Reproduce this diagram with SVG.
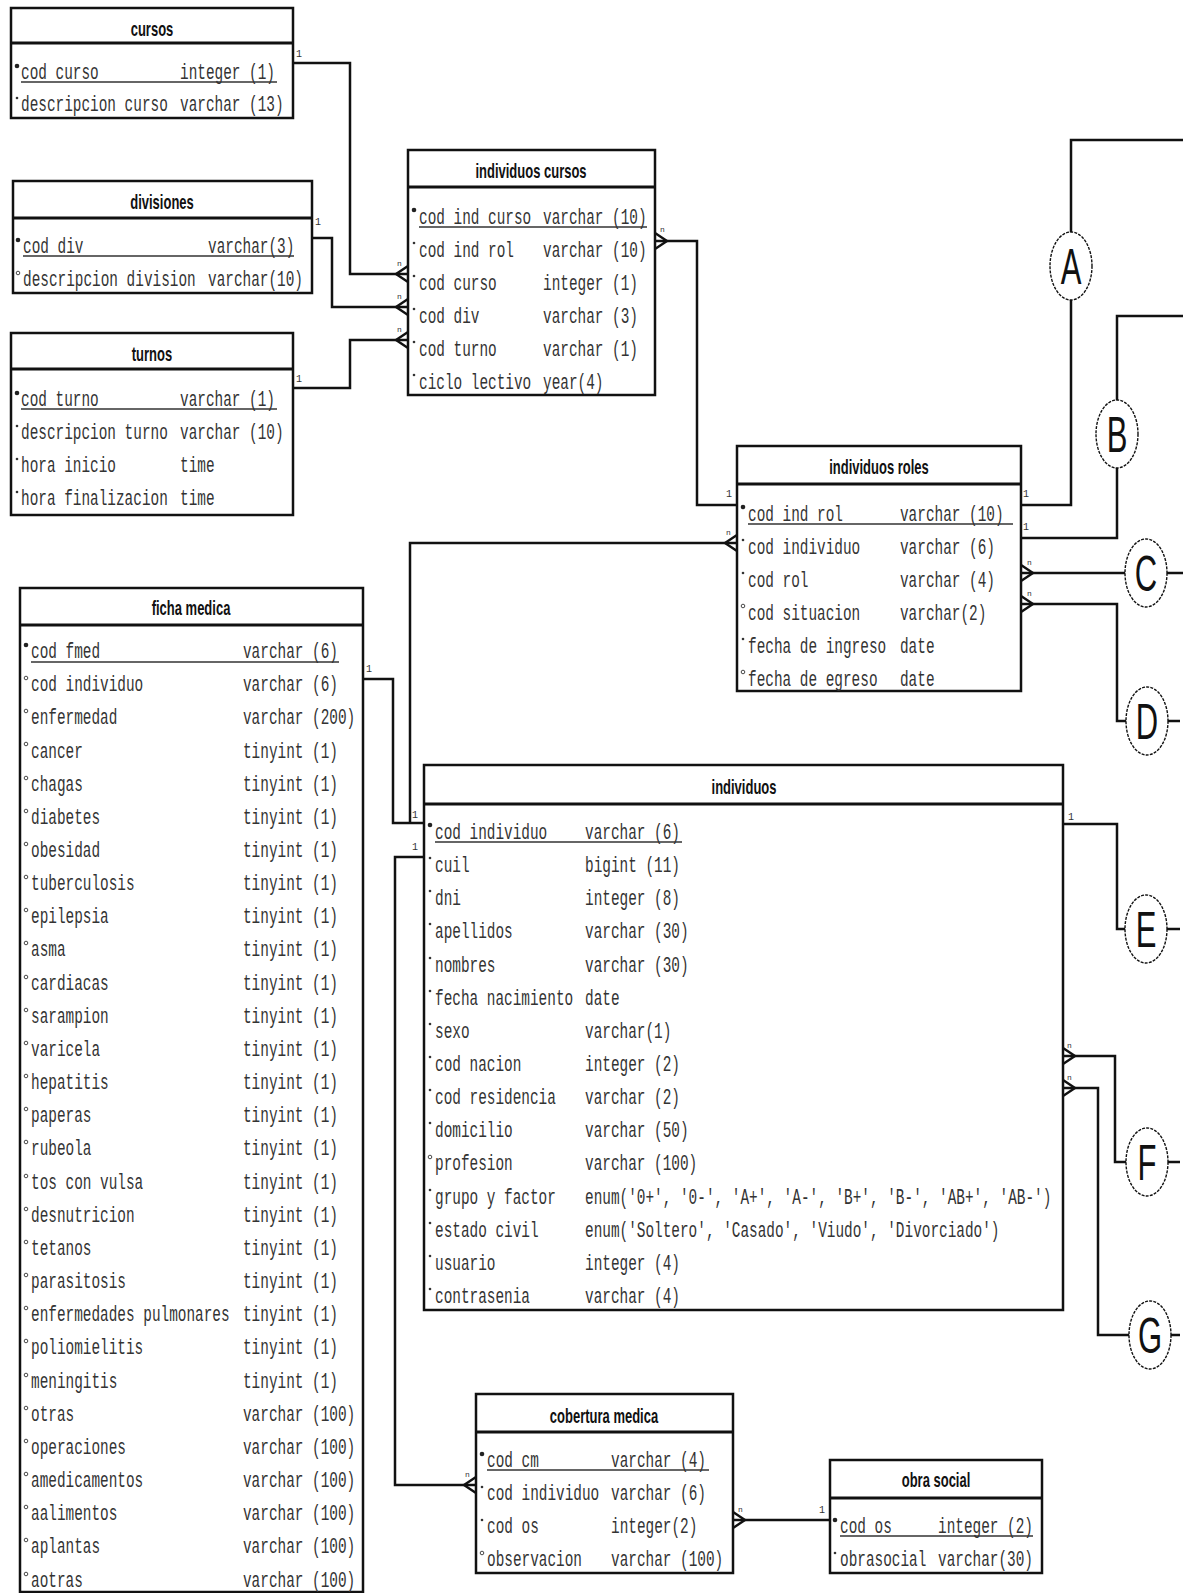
<svg xmlns="http://www.w3.org/2000/svg" width="1183" height="1593" viewBox="0 0 1183 1593">
<style>
.box{fill:#fff;stroke:#111;stroke-width:2.5}
.hdr{stroke:#111;stroke-width:3}
.t{font-family:"Liberation Sans","DejaVu Sans",Arial,sans-serif;font-weight:bold;font-size:13px;fill:#111;text-anchor:middle}
.f{font-family:"Liberation Mono","DejaVu Sans Mono","Courier New",monospace;font-size:14.4px;fill:#333}
.ul{stroke:#333;stroke-width:1.5}
.c{fill:none;stroke:#111;stroke-width:2.5}
.cf{fill:none;stroke:#111;stroke-width:2.4}
.one{font-family:"Liberation Mono",monospace;font-size:10px;fill:#333}
.n{font-family:"Liberation Mono",monospace;font-size:8px;fill:#333}
.pk{fill:#222}
.nn{fill:#333}
.nl{fill:#fff;stroke:#333;stroke-width:0.9}
.circ{fill:#fff;stroke:#111;stroke-width:1.4;stroke-dasharray:3 1.2}
.L{font-family:"Liberation Sans",Arial,sans-serif;font-size:31px;fill:#111;text-anchor:middle}
</style>
<rect width="1183" height="1593" fill="#fff"/>

<g id="connectors">
<g class="c">
<path d="M293,63 H350 V274 H408"/>
<path d="M312,238 H332 V307 H408"/>
<path d="M293,388 H350 V340 H408"/>
<path d="M655,241 H697 V505 H737"/>
<path d="M737,543 H410 V823"/>
<path d="M363,679 H393 V823 H424"/>
<path d="M424,857 H395 V1485 H476"/>
<path d="M733,1520 H830"/>
<path d="M1021,505 H1071 V140 H1183"/>
<path d="M1021,538 H1117 V316 H1183"/>
<path d="M1021,573 H1183"/>
<path d="M1021,604 H1117 V721 H1180"/>
<path d="M1063,824 H1117 V929 H1180"/>
<path d="M1063,1056 H1115 V1162 H1180"/>
<path d="M1063,1088 H1098 V1335 H1180"/>
</g>
<g class="cf">
<path d="M396,274 L408,266 M396,274 L408,282"/>
<path d="M396,307 L408,299 M396,307 L408,315"/>
<path d="M396,340 L408,332 M396,340 L408,348"/>
<path d="M667,241 L655,233 M667,241 L655,249"/>
<path d="M725,543 L737,535 M725,543 L737,551"/>
<path d="M1033,573 L1021,565 M1033,573 L1021,581"/>
<path d="M1033,604 L1021,596 M1033,604 L1021,612"/>
<path d="M1075,1056 L1063,1048 M1075,1056 L1063,1064"/>
<path d="M1075,1088 L1063,1080 M1075,1088 L1063,1096"/>
<path d="M464,1485 L476,1477 M464,1485 L476,1493"/>
<path d="M745,1520 L733,1512 M745,1520 L733,1528"/>
</g>
<g class="n">
<text x="397" y="266">n</text>
<text x="397" y="299">n</text>
<text x="397" y="332">n</text>
<text x="660" y="232">n</text>
<text x="726" y="535">n</text>
<text x="1027" y="565">n</text>
<text x="1027" y="596">n</text>
<text x="1067" y="1048">n</text>
<text x="1067" y="1080">n</text>
<text x="465" y="1477">n</text>
<text x="738" y="1512">n</text>
</g>
<g class="one">
<text x="296" y="57">1</text>
<text x="315" y="225">1</text>
<text x="296" y="382">1</text>
<text x="726" y="497">1</text>
<text x="1023" y="497">1</text>
<text x="1023" y="530">1</text>
<text x="366" y="672">1</text>
<text x="412" y="818">1</text>
<text x="412" y="850">1</text>
<text x="1068" y="820">1</text>
<text x="819" y="1513">1</text>
</g>
</g>

<g id="offpage">
<g id="ref-A"><ellipse class="circ" cx="1071" cy="266" rx="21" ry="34"/><text class="L" transform="translate(1071,284) scale(1,1.6)">A</text></g>
<g id="ref-B"><ellipse class="circ" cx="1117" cy="434" rx="21" ry="34"/><text class="L" transform="translate(1117,452) scale(1,1.6)">B</text></g>
<g id="ref-C"><ellipse class="circ" cx="1146" cy="573" rx="21" ry="34"/><text class="L" transform="translate(1146,591) scale(1,1.6)">C</text></g>
<g id="ref-D"><ellipse class="circ" cx="1147" cy="721" rx="21" ry="34"/><text class="L" transform="translate(1147,739) scale(1,1.6)">D</text></g>
<g id="ref-E"><ellipse class="circ" cx="1146" cy="929" rx="21" ry="34"/><text class="L" transform="translate(1146,947) scale(1,1.6)">E</text></g>
<g id="ref-F"><ellipse class="circ" cx="1147" cy="1162" rx="21" ry="34"/><text class="L" transform="translate(1147,1180) scale(1,1.6)">F</text></g>
<g id="ref-G"><ellipse class="circ" cx="1150" cy="1335" rx="21" ry="34"/><text class="L" transform="translate(1150,1353) scale(1,1.6)">G</text></g>
</g>

<g id="cursos">
<rect class="box" x="11" y="8" width="282" height="110"/>
<line class="hdr" x1="11" y1="43" x2="293" y2="43"/>
<text class="t" transform="translate(152,36) scale(1,1.5)">cursos</text>
<g class="f">
<g transform="translate(0,79) scale(1,1.5)"><text x="21">cod curso</text><text x="180">integer (1)</text></g>
<g transform="translate(0,111) scale(1,1.5)"><text x="21">descripcion curso</text><text x="180">varchar (13)</text></g>
</g>
<line class="ul" x1="21" y1="82" x2="277" y2="82"/>
<circle class="pk" cx="17" cy="66" r="2.3"/>
<circle class="nn" cx="17" cy="98" r="1.3"/>
</g>

<g id="divisiones">
<rect class="box" x="13" y="181" width="299" height="112"/>
<line class="hdr" x1="13" y1="218" x2="312" y2="218"/>
<text class="t" transform="translate(162,209) scale(1,1.5)">divisiones</text>
<g class="f">
<g transform="translate(0,253) scale(1,1.5)"><text x="23">cod div</text><text x="208">varchar(3)</text></g>
<g transform="translate(0,286) scale(1,1.5)"><text x="23">descripcion division</text><text x="208">varchar(10)</text></g>
</g>
<line class="ul" x1="23" y1="256" x2="294" y2="256"/>
<circle class="pk" cx="18" cy="240" r="2.3"/>
<circle class="nl" cx="18" cy="273" r="1.8"/>
</g>

<g id="turnos">
<rect class="box" x="11" y="333" width="282" height="182"/>
<line class="hdr" x1="11" y1="369" x2="293" y2="369"/>
<text class="t" transform="translate(152,361) scale(1,1.5)">turnos</text>
<g class="f">
<g transform="translate(0,406) scale(1,1.5)"><text x="21">cod turno</text><text x="180">varchar (1)</text></g>
<g transform="translate(0,439) scale(1,1.5)"><text x="21">descripcion turno</text><text x="180">varchar (10)</text></g>
<g transform="translate(0,472) scale(1,1.5)"><text x="21">hora inicio</text><text x="180">time</text></g>
<g transform="translate(0,505) scale(1,1.5)"><text x="21">hora finalizacion</text><text x="180">time</text></g>
</g>
<line class="ul" x1="21" y1="409" x2="277" y2="409"/>
<circle class="pk" cx="17" cy="393" r="2.3"/>
<circle class="nn" cx="17" cy="426" r="1.3"/>
<circle class="nn" cx="17" cy="459" r="1.3"/>
<circle class="nn" cx="17" cy="492" r="1.3"/>
</g>

<g id="individuos-cursos">
<rect class="box" x="408" y="150" width="247" height="245"/>
<line class="hdr" x1="408" y1="187" x2="655" y2="187"/>
<text class="t" transform="translate(531,178) scale(1,1.5)">individuos cursos</text>
<g class="f">
<g transform="translate(0,224) scale(1,1.5)"><text x="419">cod ind curso</text><text x="543">varchar (10)</text></g>
<g transform="translate(0,257) scale(1,1.5)"><text x="419">cod ind rol</text><text x="543">varchar (10)</text></g>
<g transform="translate(0,290) scale(1,1.5)"><text x="419">cod curso</text><text x="543">integer (1)</text></g>
<g transform="translate(0,323) scale(1,1.5)"><text x="419">cod div</text><text x="543">varchar (3)</text></g>
<g transform="translate(0,356) scale(1,1.5)"><text x="419">cod turno</text><text x="543">varchar (1)</text></g>
<g transform="translate(0,389) scale(1,1.5)"><text x="419">ciclo lectivo</text><text x="543">year(4)</text></g>
</g>
<line class="ul" x1="419" y1="227" x2="647" y2="227"/>
<circle class="pk" cx="414" cy="210" r="2.3"/>
<circle class="nn" cx="414" cy="243" r="1.3"/>
<circle class="nn" cx="414" cy="276" r="1.3"/>
<circle class="nn" cx="414" cy="309" r="1.3"/>
<circle class="nn" cx="414" cy="342" r="1.3"/>
<circle class="nn" cx="414" cy="375" r="1.3"/>
</g>

<g id="individuos-roles">
<rect class="box" x="737" y="446" width="284" height="245"/>
<line class="hdr" x1="737" y1="484" x2="1021" y2="484"/>
<text class="t" transform="translate(879,474) scale(1,1.5)">individuos roles</text>
<g class="f">
<g transform="translate(0,521) scale(1,1.5)"><text x="748">cod ind rol</text><text x="900">varchar (10)</text></g>
<g transform="translate(0,554) scale(1,1.5)"><text x="748">cod individuo</text><text x="900">varchar (6)</text></g>
<g transform="translate(0,587) scale(1,1.5)"><text x="748">cod rol</text><text x="900">varchar (4)</text></g>
<g transform="translate(0,620) scale(1,1.5)"><text x="748">cod situacion</text><text x="900">varchar(2)</text></g>
<g transform="translate(0,653) scale(1,1.5)"><text x="748">fecha de ingreso</text><text x="900">date</text></g>
<g transform="translate(0,686) scale(1,1.5)"><text x="748">fecha de egreso</text><text x="900">date</text></g>
</g>
<line class="ul" x1="748" y1="524" x2="1013" y2="524"/>
<circle class="pk" cx="743" cy="507" r="2.3"/>
<circle class="nn" cx="743" cy="540" r="1.3"/>
<circle class="nn" cx="743" cy="573" r="1.3"/>
<circle class="nl" cx="743" cy="606" r="1.8"/>
<circle class="nn" cx="743" cy="639" r="1.3"/>
<circle class="nl" cx="743" cy="672" r="1.8"/>
</g>

<g id="ficha-medica">
<rect class="box" x="20" y="588" width="343" height="1004"/>
<line class="hdr" x1="20" y1="625" x2="363" y2="625"/>
<text class="t" transform="translate(191,615) scale(1,1.5)">ficha medica</text>
<g class="f">
<g transform="translate(0,658) scale(1,1.5)"><text x="31">cod fmed</text><text x="243">varchar (6)</text></g>
<g transform="translate(0,691.2) scale(1,1.5)"><text x="31">cod individuo</text><text x="243">varchar (6)</text></g>
<g transform="translate(0,724.3) scale(1,1.5)"><text x="31">enfermedad</text><text x="243">varchar (200)</text></g>
<g transform="translate(0,757.5) scale(1,1.5)"><text x="31">cancer</text><text x="243">tinyint (1)</text></g>
<g transform="translate(0,790.6) scale(1,1.5)"><text x="31">chagas</text><text x="243">tinyint (1)</text></g>
<g transform="translate(0,823.8) scale(1,1.5)"><text x="31">diabetes</text><text x="243">tinyint (1)</text></g>
<g transform="translate(0,857) scale(1,1.5)"><text x="31">obesidad</text><text x="243">tinyint (1)</text></g>
<g transform="translate(0,890.1) scale(1,1.5)"><text x="31">tuberculosis</text><text x="243">tinyint (1)</text></g>
<g transform="translate(0,923.3) scale(1,1.5)"><text x="31">epilepsia</text><text x="243">tinyint (1)</text></g>
<g transform="translate(0,956.4) scale(1,1.5)"><text x="31">asma</text><text x="243">tinyint (1)</text></g>
<g transform="translate(0,989.6) scale(1,1.5)"><text x="31">cardiacas</text><text x="243">tinyint (1)</text></g>
<g transform="translate(0,1022.8) scale(1,1.5)"><text x="31">sarampion</text><text x="243">tinyint (1)</text></g>
<g transform="translate(0,1055.9) scale(1,1.5)"><text x="31">varicela</text><text x="243">tinyint (1)</text></g>
<g transform="translate(0,1089.1) scale(1,1.5)"><text x="31">hepatitis</text><text x="243">tinyint (1)</text></g>
<g transform="translate(0,1122.2) scale(1,1.5)"><text x="31">paperas</text><text x="243">tinyint (1)</text></g>
<g transform="translate(0,1155.4) scale(1,1.5)"><text x="31">rubeola</text><text x="243">tinyint (1)</text></g>
<g transform="translate(0,1188.6) scale(1,1.5)"><text x="31">tos con vulsa</text><text x="243">tinyint (1)</text></g>
<g transform="translate(0,1221.7) scale(1,1.5)"><text x="31">desnutricion</text><text x="243">tinyint (1)</text></g>
<g transform="translate(0,1254.9) scale(1,1.5)"><text x="31">tetanos</text><text x="243">tinyint (1)</text></g>
<g transform="translate(0,1288) scale(1,1.5)"><text x="31">parasitosis</text><text x="243">tinyint (1)</text></g>
<g transform="translate(0,1321.2) scale(1,1.5)"><text x="31">enfermedades pulmonares</text><text x="243">tinyint (1)</text></g>
<g transform="translate(0,1354.4) scale(1,1.5)"><text x="31">poliomielitis</text><text x="243">tinyint (1)</text></g>
<g transform="translate(0,1387.5) scale(1,1.5)"><text x="31">meningitis</text><text x="243">tinyint (1)</text></g>
<g transform="translate(0,1420.7) scale(1,1.5)"><text x="31">otras</text><text x="243">varchar (100)</text></g>
<g transform="translate(0,1453.8) scale(1,1.5)"><text x="31">operaciones</text><text x="243">varchar (100)</text></g>
<g transform="translate(0,1487) scale(1,1.5)"><text x="31">amedicamentos</text><text x="243">varchar (100)</text></g>
<g transform="translate(0,1520.2) scale(1,1.5)"><text x="31">aalimentos</text><text x="243">varchar (100)</text></g>
<g transform="translate(0,1553.3) scale(1,1.5)"><text x="31">aplantas</text><text x="243">varchar (100)</text></g>
<g transform="translate(0,1586.5) scale(1,1.5)"><text x="31">aotras</text><text x="243">varchar (100)</text></g>
</g>
<line class="ul" x1="31" y1="662" x2="339" y2="662"/>
<circle class="pk" cx="26" cy="645" r="2.3"/>
<g class="nl">
<circle cx="26" cy="678" r="1.8"/><circle cx="26" cy="711" r="1.8"/><circle cx="26" cy="744" r="1.8"/><circle cx="26" cy="778" r="1.8"/><circle cx="26" cy="811" r="1.8"/><circle cx="26" cy="844" r="1.8"/><circle cx="26" cy="877" r="1.8"/><circle cx="26" cy="910" r="1.8"/><circle cx="26" cy="943" r="1.8"/><circle cx="26" cy="977" r="1.8"/><circle cx="26" cy="1010" r="1.8"/><circle cx="26" cy="1043" r="1.8"/><circle cx="26" cy="1076" r="1.8"/><circle cx="26" cy="1109" r="1.8"/><circle cx="26" cy="1142" r="1.8"/><circle cx="26" cy="1176" r="1.8"/><circle cx="26" cy="1209" r="1.8"/><circle cx="26" cy="1242" r="1.8"/><circle cx="26" cy="1275" r="1.8"/><circle cx="26" cy="1308" r="1.8"/><circle cx="26" cy="1341" r="1.8"/><circle cx="26" cy="1375" r="1.8"/><circle cx="26" cy="1408" r="1.8"/><circle cx="26" cy="1441" r="1.8"/><circle cx="26" cy="1474" r="1.8"/><circle cx="26" cy="1507" r="1.8"/><circle cx="26" cy="1540" r="1.8"/><circle cx="26" cy="1574" r="1.8"/>
</g>
</g>

<g id="individuos">
<rect class="box" x="424" y="765" width="639" height="545"/>
<line class="hdr" x1="424" y1="804" x2="1063" y2="804"/>
<text class="t" transform="translate(744,794) scale(1,1.5)">individuos</text>
<g class="f">
<g transform="translate(0,839) scale(1,1.5)"><text x="435">cod individuo</text><text x="585">varchar (6)</text></g>
<g transform="translate(0,872.1) scale(1,1.5)"><text x="435">cuil</text><text x="585">bigint (11)</text></g>
<g transform="translate(0,905.3) scale(1,1.5)"><text x="435">dni</text><text x="585">integer (8)</text></g>
<g transform="translate(0,938.4) scale(1,1.5)"><text x="435">apellidos</text><text x="585">varchar (30)</text></g>
<g transform="translate(0,971.6) scale(1,1.5)"><text x="435">nombres</text><text x="585">varchar (30)</text></g>
<g transform="translate(0,1004.7) scale(1,1.5)"><text x="435">fecha nacimiento</text><text x="585">date</text></g>
<g transform="translate(0,1037.8) scale(1,1.5)"><text x="435">sexo</text><text x="585">varchar(1)</text></g>
<g transform="translate(0,1071) scale(1,1.5)"><text x="435">cod nacion</text><text x="585">integer (2)</text></g>
<g transform="translate(0,1104.1) scale(1,1.5)"><text x="435">cod residencia</text><text x="585">varchar (2)</text></g>
<g transform="translate(0,1137.3) scale(1,1.5)"><text x="435">domicilio</text><text x="585">varchar (50)</text></g>
<g transform="translate(0,1170.4) scale(1,1.5)"><text x="435">profesion</text><text x="585">varchar (100)</text></g>
<g transform="translate(0,1203.5) scale(1,1.5)"><text x="435">grupo y factor</text><text x="585">enum('0+', '0-', 'A+', 'A-', 'B+', 'B-', 'AB+', 'AB-')</text></g>
<g transform="translate(0,1236.7) scale(1,1.5)"><text x="435">estado civil</text><text x="585">enum('Soltero', 'Casado', 'Viudo', 'Divorciado')</text></g>
<g transform="translate(0,1269.8) scale(1,1.5)"><text x="435">usuario</text><text x="585">integer (4)</text></g>
<g transform="translate(0,1303) scale(1,1.5)"><text x="435">contrasenia</text><text x="585">varchar (4)</text></g>
</g>
<line class="ul" x1="435" y1="842" x2="682" y2="842"/>
<circle class="pk" cx="430" cy="825" r="2.3"/>
<g class="nn">
<circle cx="430" cy="858" r="1.3"/><circle cx="430" cy="891" r="1.3"/><circle cx="430" cy="924" r="1.3"/><circle cx="430" cy="958" r="1.3"/><circle cx="430" cy="991" r="1.3"/><circle cx="430" cy="1024" r="1.3"/><circle cx="430" cy="1057" r="1.3"/><circle cx="430" cy="1090" r="1.3"/><circle cx="430" cy="1123" r="1.3"/><circle cx="430" cy="1190" r="1.3"/><circle cx="430" cy="1223" r="1.3"/><circle cx="430" cy="1256" r="1.3"/><circle cx="430" cy="1289" r="1.3"/>
</g>
<circle class="nl" cx="430" cy="1157" r="1.8"/>
</g>

<g id="cobertura-medica">
<rect class="box" x="476" y="1394" width="257" height="179"/>
<line class="hdr" x1="476" y1="1432" x2="733" y2="1432"/>
<text class="t" transform="translate(604,1423) scale(1,1.5)">cobertura medica</text>
<g class="f">
<g transform="translate(0,1467) scale(1,1.5)"><text x="487">cod cm</text><text x="611">varchar (4)</text></g>
<g transform="translate(0,1500) scale(1,1.5)"><text x="487">cod individuo</text><text x="611">varchar (6)</text></g>
<g transform="translate(0,1533) scale(1,1.5)"><text x="487">cod os</text><text x="611">integer(2)</text></g>
<g transform="translate(0,1566) scale(1,1.5)"><text x="487">observacion</text><text x="611">varchar (100)</text></g>
</g>
<line class="ul" x1="487" y1="1470" x2="709" y2="1470"/>
<circle class="pk" cx="482" cy="1454" r="2.3"/>
<circle class="nn" cx="482" cy="1487" r="1.3"/>
<circle class="nn" cx="482" cy="1520" r="1.3"/>
<circle class="nl" cx="482" cy="1553" r="1.8"/>
</g>

<g id="obra-social">
<rect class="box" x="830" y="1460" width="212" height="113"/>
<line class="hdr" x1="830" y1="1498" x2="1042" y2="1498"/>
<text class="t" transform="translate(936,1487) scale(1,1.5)">obra social</text>
<g class="f">
<g transform="translate(0,1533) scale(1,1.5)"><text x="840">cod os</text><text x="938">integer (2)</text></g>
<g transform="translate(0,1566) scale(1,1.5)"><text x="840">obrasocial</text><text x="938">varchar(30)</text></g>
</g>
<line class="ul" x1="840" y1="1536" x2="1033" y2="1536"/>
<circle class="pk" cx="835" cy="1520" r="2.3"/>
<circle class="nn" cx="835" cy="1553" r="1.3"/>
</g>
</svg>
